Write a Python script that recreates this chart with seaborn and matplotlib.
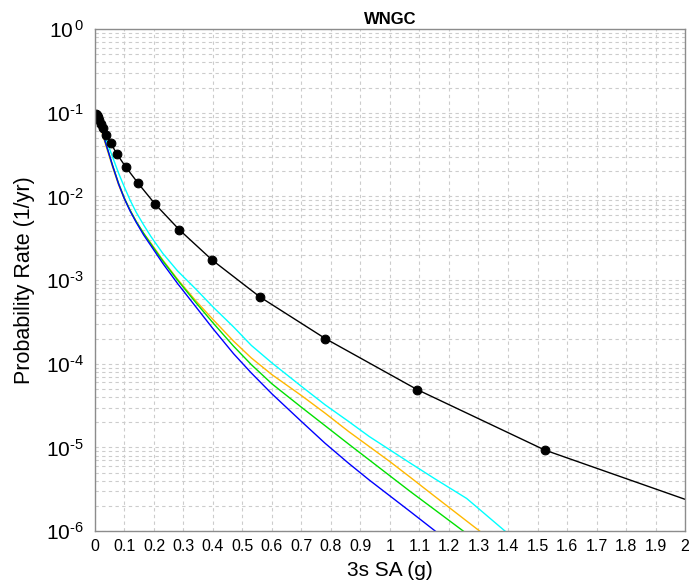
import numpy as np
import matplotlib
matplotlib.use("Agg")
import matplotlib.pyplot as plt
import seaborn as sns
from matplotlib.ticker import FixedLocator, FuncFormatter, MultipleLocator, NullFormatter

# ----------------------------------------------------------------------
# data
# ----------------------------------------------------------------------
# black hazard curve (markers) + tail segment without marker
sa_black = [0.0051, 0.0072, 0.0100, 0.0141, 0.0197, 0.0276, 0.0386, 0.054, 0.075,
            0.104, 0.147, 0.204, 0.286, 0.398, 0.559, 0.781, 1.093, 1.525]
rate_black = [0.098, 0.094, 0.089, 0.082, 0.074, 0.065, 0.055, 0.043, 0.032,
              0.0226, 0.0143, 0.0081, 0.0040, 0.00173, 6.3e-4, 2.0e-4, 4.9e-5, 9.3e-6]
sa_tail = [1.525, 2.0]
rate_tail = [9.3e-6, 2.4e-6]

# coloured curves share one SA grid, values given as log10(rate)
sa_grid = [0.01, 0.015, 0.02, 0.03, 0.045, 0.06, 0.08, 0.1, 0.12, 0.14, 0.165, 0.19,
           0.23, 0.28, 0.34, 0.4, 0.47, 0.53, 0.6, 0.7, 0.78, 0.86, 0.93, 1.0,
           1.07, 1.15, 1.26, 1.33, 1.4]
log_cyan = [-1.06, -1.10, -1.15, -1.25, -1.39, -1.53, -1.72, -1.89, -2.05, -2.19, -2.34, -2.48,
            -2.68, -2.89, -3.10, -3.32, -3.56, -3.78, -3.99, -4.27, -4.49, -4.69, -4.87, -5.03,
            -5.19, -5.37, -5.61, -5.82, -6.03]
log_orange = [-1.06, -1.12, -1.18, -1.31, -1.48, -1.65, -1.86, -2.03, -2.17, -2.30, -2.44, -2.56,
              -2.76, -2.99, -3.24, -3.47, -3.73, -3.93, -4.13, -4.38, -4.59, -4.81, -4.99, -5.17,
              -5.36, -5.58, -5.88, -6.07, -6.25]
log_green = [-1.06, -1.11, -1.17, -1.29, -1.46, -1.63, -1.84, -2.02, -2.17, -2.30, -2.44, -2.57,
             -2.77, -3.00, -3.26, -3.51, -3.79, -4.01, -4.24, -4.52, -4.74, -4.96, -5.15, -5.34,
             -5.53, -5.74, -6.03, -6.22, -6.42]
log_blue = [-1.06, -1.11, -1.17, -1.29, -1.46, -1.635, -1.85, -2.03, -2.18, -2.31, -2.46, -2.59,
            -2.80, -3.04, -3.31, -3.58, -3.88, -4.11, -4.36, -4.69, -4.95, -5.19, -5.39, -5.58,
            -5.77, -5.99, -6.30, -6.50, -6.70]

curves = [
    (log_cyan, "#00FFFF"),
    (log_orange, "#FFB800"),
    (log_green, "#00E000"),
    (log_blue, "#0000FF"),
]

decades = [-6, -5, -4, -3, -2, -1, 0]

# ----------------------------------------------------------------------
# plot
# ----------------------------------------------------------------------
sns.set_style("white")
plt.rcParams["font.family"] = ["Liberation Sans", "DejaVu Sans"]
plt.rcParams["mathtext.fontset"] = "custom"
plt.rcParams["mathtext.rm"] = "Liberation Sans"
plt.rcParams["mathtext.it"] = "Liberation Sans"
plt.rcParams["text.color"] = "black"
plt.rcParams["axes.labelcolor"] = "black"

fig = plt.figure(figsize=(6.93, 5.83), dpi=100)
ax = fig.add_axes([0.137, 0.089, 0.8515, 0.861])

for logs, col in curves:
    sns.lineplot(x=sa_grid, y=10.0 ** np.array(logs), color=col, lw=1.0, ax=ax, sort=False)

sns.lineplot(x=sa_tail, y=rate_tail, color="black", lw=1.0, ax=ax, sort=False)
sns.lineplot(x=sa_black, y=rate_black, color="black", lw=1.0, marker="o",
             markersize=6.3, markeredgecolor="black", ax=ax, sort=False)

ax.set_yscale("log")
ax.set_xlim(0, 2)
ax.set_ylim(1e-6, 1)

ax.xaxis.set_major_locator(MultipleLocator(0.1))
ax.xaxis.set_major_formatter(FuncFormatter(lambda v, p: f"{v:g}"))

major_y = [10.0 ** d for d in decades]
minor_y = [m * 10.0 ** d for d in decades[:-1] for m in range(2, 10)]
ax.yaxis.set_major_locator(FixedLocator(major_y))
ax.yaxis.set_minor_locator(FixedLocator(minor_y))
ax.yaxis.set_minor_formatter(NullFormatter())

HYPHEN = "\u2010"


def dec_label(v, p):
    e = int(round(np.log10(v)))
    if e == 0:
        return r"$10^{\,0}$"
    return "$10^{" + HYPHEN + str(abs(e)) + "}$"


ax.yaxis.set_major_formatter(FuncFormatter(dec_label))

ax.grid(True, which="major", axis="both", color="#cccccc", ls=(0, (3, 3)), lw=0.8)
ax.grid(True, which="minor", axis="y", color="#cccccc", ls=(0, (3, 3)), lw=0.8)
ax.set_axisbelow(True)

for s in ax.spines.values():
    s.set_color("#8c8c8c")
    s.set_linewidth(1.0)

ax.tick_params(axis="x", which="both", length=0, labelsize=11.5, pad=6, colors="black")
ax.tick_params(axis="y", which="both", length=0, labelsize=15, pad=8, colors="black")

ax.set_xlabel("3s SA (g)", fontsize=15, labelpad=5)
ax.set_ylabel("Probability Rate (1/yr)", fontsize=15.5, labelpad=8)
ax.set_title("WNGC", fontsize=12, fontweight="bold", pad=4, color="black")

fig.savefig("out.png", dpi=100)
